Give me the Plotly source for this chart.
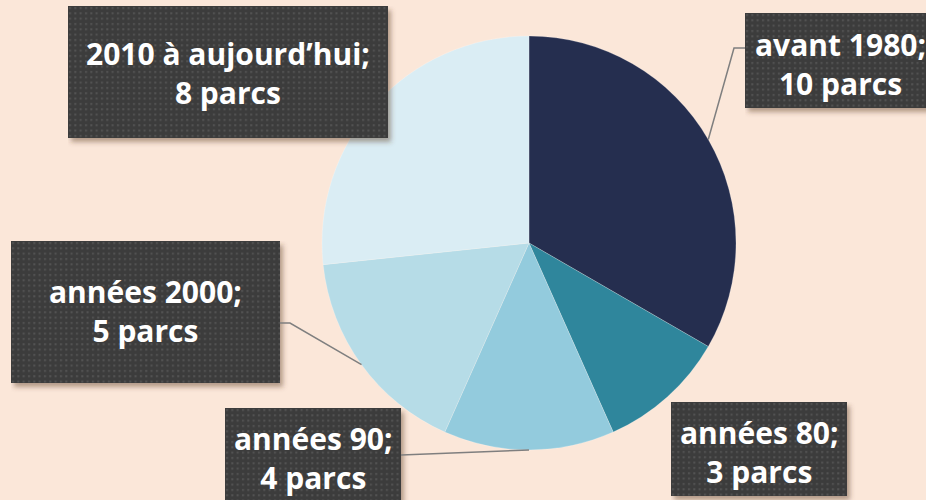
import math
import base64
import plotly.graph_objects as go

categories = ["avant 1980", "années 80", "années 90", "années 2000", "2010 à aujourd’hui"]
values = [10, 3, 4, 5, 8]
unit = "parcs"
colors = ["#252e4f", "#2f869c", "#93cbdd", "#b6dce7", "#daedf4"]

W, H = 926, 500
BG = "#fbe7d9"

# pie geometry (pixels)
cx, cy, R = 529, 243, 207

fig = go.Figure(go.Pie(
    labels=categories, values=values, sort=False, direction="clockwise", rotation=0,
    marker=dict(colors=colors, line=dict(color="rgba(255,255,255,0.35)", width=0.6)),
    textinfo="none", hoverinfo="label+value", showlegend=False,
    domain=dict(x=[(cx - R) / W, (cx + R) / W], y=[1 - (cy + R) / H, 1 - (cy - R) / H]),
))

def px(x):
    return x / W

def py(y):
    return 1 - y / H

boxes = {
    0: dict(b=(745, 13, 934, 108), t=(840, 64), elbow=(734, 48), start=(745, 48)),
    1: dict(b=(671, 402, 847, 496), t=(759, 452), elbow=None, start=None),
    2: dict(b=(225, 408, 401, 508), t=(313, 458), elbow=None, start=(401, 455)),
    3: dict(b=(11, 241, 280, 383), t=(145, 311), elbow=(290, 323), start=(280, 323)),
    4: dict(b=(68, 6, 388, 138), t=(228, 73), elbow=None, start=None),
}

def box_svg(w, h, pad=14):
    svg = f'''<svg xmlns="http://www.w3.org/2000/svg" width="{w+pad}" height="{h+pad}">
<defs>
<pattern id="p" width="5.33" height="5.33" patternUnits="userSpaceOnUse">
<rect width="5.33" height="5.33" fill="#3c3c3c"/>
<rect x="1" y="1" width="2" height="2" fill="#535353"/>
</pattern>
<filter id="f" x="-10%" y="-10%" width="130%" height="130%"><feGaussianBlur stdDeviation="2.5"/></filter>
</defs>
<rect x="3" y="4" width="{w}" height="{h}" fill="rgba(90,60,40,0.45)" filter="url(#f)"/>
<rect x="0" y="0" width="{w}" height="{h}" fill="url(#p)"/>
</svg>'''
    return "data:image/svg+xml;base64," + base64.b64encode(svg.encode()).decode()

shapes = []
annotations = []
images = []
total = sum(values)
cum = 0
for i, (cat, v) in enumerate(zip(categories, values)):
    mid = (cum + v / 2) / total * 2 * math.pi
    cum += v
    ex = cx + R * math.sin(mid)
    ey = cy - R * math.cos(mid)
    bx = boxes[i]
    if bx["start"] is not None:
        pts = [bx["start"]]
        if bx["elbow"] is not None:
            pts.append(bx["elbow"])
        pts.append((ex, ey))
        path = "M " + " L ".join(f"{px(a):.5f},{py(b):.5f}" for a, b in pts)
        shapes.append(dict(type="path", xref="paper", yref="paper", path=path,
                           line=dict(color="#7f7f7f", width=1.5)))
    x0, y0, x1, y1 = bx["b"]
    pad = 14
    images.append(dict(
        source=box_svg(x1 - x0, y1 - y0, pad), xref="paper", yref="paper",
        x=px(x0), y=py(y0), sizex=(x1 - x0 + pad) / W, sizey=(y1 - y0 + pad) / H,
        xanchor="left", yanchor="top", sizing="stretch", layer="above",
    ))
    tx, ty = bx["t"]
    annotations.append(dict(
        x=px(tx), y=py(ty), xref="paper", yref="paper", showarrow=False,
        text=f"<b>{cat};<br>{v} {unit}</b>", align="center",
        font=dict(family="'Open Sans', sans-serif", size=30, color="#ffffff"),
        xanchor="center", yanchor="middle",
    ))

fig.update_layout(
    width=W, height=H, margin=dict(l=0, r=0, t=0, b=0),
    paper_bgcolor=BG, plot_bgcolor=BG,
    shapes=shapes, annotations=annotations, images=images,
)

fig.write_html("out.html")
